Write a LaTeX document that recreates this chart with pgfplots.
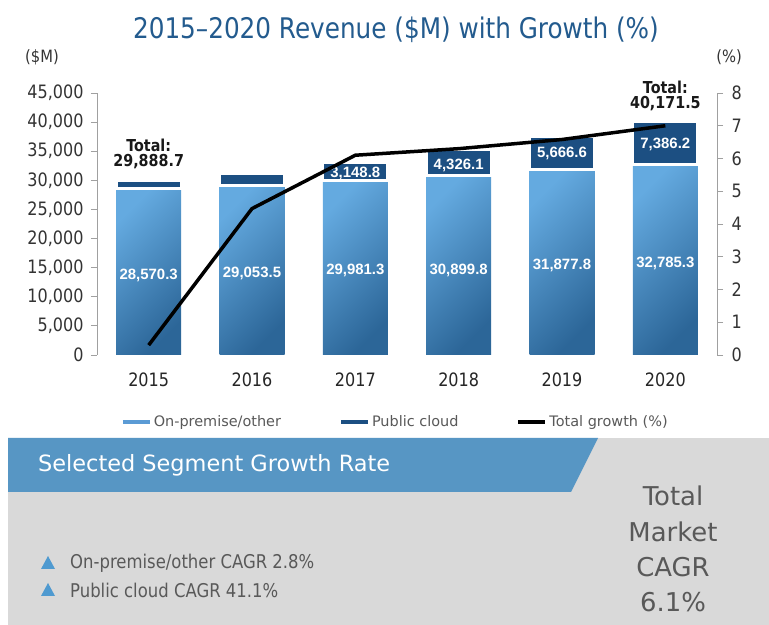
\documentclass[border=0pt]{standalone}
\usepackage{pgfplots}
\pgfplotsset{compat=1.18}
\usepackage{pgfplotstable}
\usepackage{fontspec}
\setmainfont{DejaVu Sans}
\newfontfamily\dv{DejaVu Sans}
\newfontfamily\tah{DejaVu Sans}[FakeStretch=0.87]
\newfontfamily\ar{Liberation Sans}
\definecolor{titleblue}{HTML}{235B8E}
\definecolor{barlight}{HTML}{64AAE0}
\definecolor{bardark}{HTML}{2C6698}
\definecolor{cloud}{HTML}{1C4F82}
\definecolor{legblue}{HTML}{5B9BD5}
\definecolor{axgray}{HTML}{A0A0A0}
\definecolor{txtgray}{HTML}{595959}
\definecolor{ticktxt}{HTML}{333333}
\definecolor{panelgray}{HTML}{D9D9D9}
\definecolor{banner}{HTML}{5796C4}
\definecolor{tri}{HTML}{4F9AD0}

\pgfplotstableread{
x onprem cloud growth
0 28570.3 1318.4 0.3
1 29053.5 2171.5 4.47
2 29981.3 3148.8 6.1
3 30899.8 4326.1 6.3
4 31877.8 5666.6 6.58
5 32785.3 7386.2 7.0
}\revdata

\pgfplotstableread{
x y label
0 13740 28,570.3
1 14084 29,053.5
2 14599 29,981.3
3 14599 30,899.8
4 15458 31,877.8
5 15802 32,785.3
2 31200 3,148.8
3 32600 4,326.1
4 34600 5,666.6
5 36100 7,386.2
}\barlabels

\pgfplotstableread{
x y label
0 36069 Total:
0 33149 29,888.7
5 46031 Total:
5 43111 40,171.5
}\totallabels

\pgfplotsset{
  common/.style={
    at={(97bp,270bp)}, anchor=south west,
    scale only axis, width=620bp, height=262bp,
    xmin=-0.5, xmax=5.5, clip=false,
  },
  ticksty/.style={
    tick align=outside, major tick length=6bp,
    every tick/.style={draw=axgray, line width=0.8bp},
    tick label style={font=\tah\fontsize{18.5}{21}\selectfont, text=ticktxt},
    /pgf/number format/1000 sep={,},
    /pgf/number format/assume math mode=true,
  },
  onp/.style={draw=none, top color=barlight, bottom color=bardark, shading angle=45},
}

\begin{document}
\begin{tikzpicture}
\useasboundingbox (0,0) rectangle (769bp,625bp);
\fill[white] (0,0) rectangle (769bp,625bp);

% bottom panel
\fill[panelgray] (8bp,0bp) rectangle (769bp,187bp);
\fill[banner] (8bp,187bp) -- (598bp,187bp) -- (571bp,133bp) -- (8bp,133bp) -- cycle;
\node[anchor=west, text=white, font=\dv\fontsize{22.5}{26}\selectfont, inner sep=0pt] at (38bp,160bp) {Selected Segment Growth Rate};
\fill[tri] (41bp,56bp) -- (55bp,56bp) -- (48bp,69bp) -- cycle;
\fill[tri] (41bp,29bp) -- (55bp,29bp) -- (48bp,42bp) -- cycle;
\node[anchor=west, text=txtgray, font=\tah\fontsize{19}{22}\selectfont, inner sep=0pt] at (70bp,62bp) {On-premise/other CAGR 2.8\%};
\node[anchor=west, text=txtgray, font=\tah\fontsize{19}{22}\selectfont, inner sep=0pt] at (70bp,35bp) {Public cloud CAGR 41.1\%};
\node[text=txtgray, font=\dv\fontsize{26}{30}\selectfont, inner sep=0pt] at (673bp,129bp) {Total};
\node[text=txtgray, font=\dv\fontsize{26}{30}\selectfont, inner sep=0pt] at (673bp,93bp) {Market};
\node[text=txtgray, font=\dv\fontsize{26}{30}\selectfont, inner sep=0pt] at (673bp,58bp) {CAGR};
\node[text=txtgray, font=\dv\fontsize{26}{30}\selectfont, inner sep=0pt] at (673bp,23bp) {6.1\%};

% title and unit labels
\node[text=titleblue, font=\tah\fontsize{28.5}{32}\selectfont] at (396bp,595bp) {2015–2020 Revenue (\$M) with Growth (\%)};
\node[text=ticktxt, font=\tah\fontsize{17}{20}\selectfont] at (42bp,568bp) {(\$M)};
\node[text=ticktxt, font=\tah\fontsize{17}{20}\selectfont] at (729bp,568bp) {(\%)};

% left axis with on-premise bars (one plot per bar so each bar has its own shading)
\begin{axis}[common, ticksty,
  ymin=0, ymax=45000,
  axis y line*=left, axis x line*=bottom,
  x axis line style={draw=none},
  y axis line style={draw=axgray, line width=0.8bp},
  xtick={0,...,5}, xticklabels={2015,2016,2017,2018,2019,2020},
  x tick style={draw=none},
  xticklabel style={yshift=-8bp, text=black!85},
  yticklabel style={xshift=-4bp},
  ytick={0,5000,...,45000},
  scaled y ticks=false,
  ybar, bar width=65bp, bar shift=0pt,
]
\addplot[onp] coordinates {(0,28570.3)};
\addplot[onp] coordinates {(1,29053.5)};
\addplot[onp] coordinates {(2,29981.3)};
\addplot[onp] coordinates {(3,30899.8)};
\addplot[onp] coordinates {(4,31877.8)};
\addplot[onp] coordinates {(5,32785.3)};
\end{axis}

% public cloud segments stacked on top
\begin{axis}[common, ymin=0, ymax=45000, hide axis, ybar stacked, bar width=65bp]
\addplot[draw=none, fill=none] table[x=x,y=onprem]{\revdata};
\addplot[fill=cloud, draw=white, line width=3bp] table[x=x,y=cloud]{\revdata};
\end{axis}

% labels
\begin{axis}[common, ymin=0, ymax=45000, hide axis]
\addplot[only marks, mark=*, mark size=0pt, mark options={draw=none, fill=none},
  nodes near coords, point meta=explicit symbolic,
  every node near coord/.append style={anchor=center, text=white, inner sep=0pt, font=\ar\bfseries\fontsize{15}{17}\selectfont}]
  table[x=x, y=y, meta=label]{\barlabels};
\addplot[only marks, mark=*, mark size=0pt, mark options={draw=none, fill=none},
  nodes near coords, point meta=explicit symbolic,
  every node near coord/.append style={anchor=center, text=black!90, inner sep=0pt, font=\tah\bfseries\fontsize{16.5}{19}\selectfont}]
  table[x=x, y=y, meta=label]{\totallabels};
\end{axis}

% right axis with growth line
\begin{axis}[common, ticksty,
  ymin=0, ymax=8,
  axis y line*=right, axis x line=none,
  y axis line style={draw=axgray, line width=0.8bp},
  yticklabel style={xshift=5bp},
  ytick={0,...,8},
  legend style={at={(0.481,-0.256)}, anchor=center, draw=none, fill=none,
    legend columns=3, font=\dv\fontsize{14.5}{16}\selectfont, text=txtgray,
    /tikz/every even column/.append style={column sep=56bp}},
  legend cell align=left,
  legend image code/.code={\draw[#1, line width=4bp] (0bp,0bp) -- (27bp,0bp);},
]
\addlegendimage{legblue}
\addlegendentry{On-premise/other}
\addlegendimage{cloud}
\addlegendentry{Public cloud}
\addplot[black, line width=3.5bp, mark=none] table[x=x,y=growth]{\revdata};
\addlegendentry{Total growth (\%)}
\end{axis}
\end{tikzpicture}
\end{document}
